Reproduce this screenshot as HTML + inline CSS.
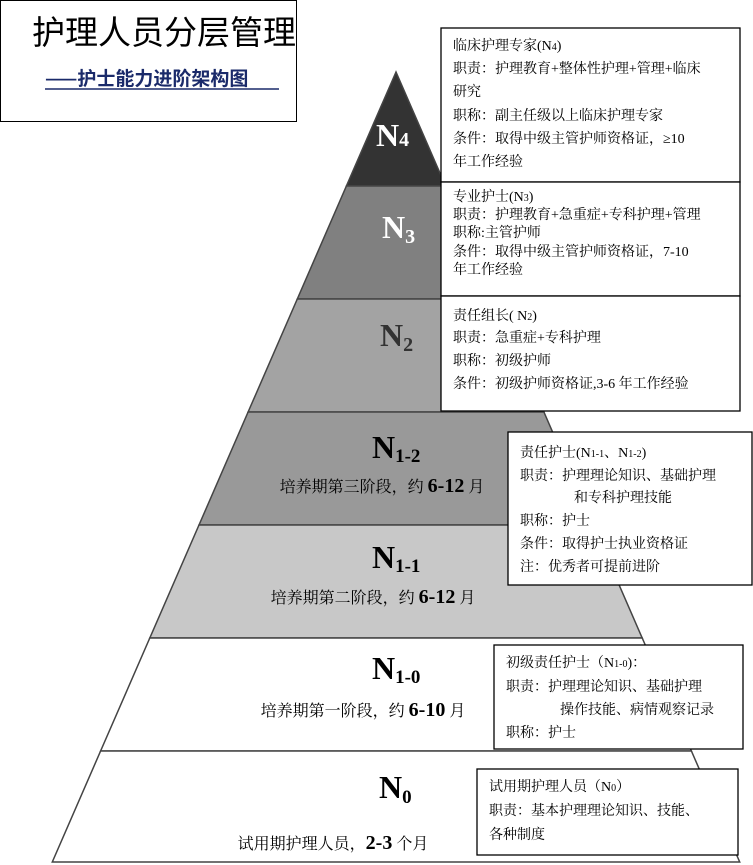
<!DOCTYPE html>
<html><head><meta charset="utf-8"><style>
body{margin:0;background:#fff;}
svg{display:block}
text{font-family:"Liberation Serif","Noto Serif CJK SC","Noto Sans CJK SC",serif;fill:#000}
.b{font-size:14px}
</style></head><body>
<svg width="753" height="865" viewBox="0 0 753 865" xmlns="http://www.w3.org/2000/svg">
<rect x="0" y="0" width="753" height="865" fill="#fff"/>
<g stroke="#444" stroke-width="1.5">
<polygon points="396,72 346.4,186 445.6,186" fill="#333333"/>
<polygon points="346.4,186 445.6,186 494.7,299 297.3,299" fill="#808080"/>
<polygon points="297.3,299 494.7,299 543.9,412 248.1,412" fill="#a3a3a3"/>
<polygon points="248.1,412 543.9,412 593,525 199,525" fill="#999999"/>
<polygon points="199,525 593,525 642.2,638 149.8,638" fill="#c8c8c8"/>
<polygon points="149.8,638 642.2,638 691.4,751 100.6,751" fill="#ffffff"/>
<polygon points="100.6,751 691.4,751 739.7,862 52.3,862" fill="#ffffff"/>
</g>
<rect x="0.5" y="0.5" width="296" height="121" fill="#fff" stroke="#000" stroke-width="1"/>
<text x="164" y="44" font-size="33" text-anchor="middle" style="font-family:'Noto Sans CJK SC',sans-serif">护理人员分层管理</text>
<text x="45" y="85" font-size="19" font-weight="bold" style="fill:#1a2a6a;font-family:'Noto Sans CJK SC',sans-serif">——护士能力进阶架构图</text>
<line x1="45" y1="89" x2="279" y2="89" stroke="#1a2a6a" stroke-width="1.5"/>
<g font-weight="bold">
<text x="376" y="146" font-size="32" style="fill:#fff">N<tspan font-size="20">4</tspan></text>
<text x="382" y="238" font-size="32" style="fill:#fff">N<tspan font-size="20" dy="5">3</tspan></text>
<text x="380" y="346" font-size="32" style="fill:#333">N<tspan font-size="20" dy="5">2</tspan></text>
<text x="372" y="458" font-size="32">N<tspan font-size="19" dy="4">1-2</tspan></text>
<text x="372" y="568" font-size="32">N<tspan font-size="19" dy="4">1-1</tspan></text>
<text x="372" y="679" font-size="32">N<tspan font-size="19" dy="4">1-0</tspan></text>
<text x="379" y="798" font-size="32">N<tspan font-size="19" dy="5">0</tspan></text>
</g>
<text x="382" y="492" font-size="16" text-anchor="middle">培养期第三阶段，约 <tspan font-weight="bold" font-size="20">6-12</tspan> 月</text>
<text x="373" y="603" font-size="16" text-anchor="middle">培养期第二阶段，约 <tspan font-weight="bold" font-size="20">6-12</tspan> 月</text>
<text x="363" y="716" font-size="16" text-anchor="middle">培养期第一阶段，约 <tspan font-weight="bold" font-size="20">6-10</tspan> 月</text>
<text x="333" y="849" font-size="16" text-anchor="middle">试用期护理人员，<tspan font-weight="bold" font-size="20">2-3</tspan> 个月</text>
<g fill="#fff" stroke="#000" stroke-width="1.3">
<rect x="441" y="28" width="299" height="154"/>
<rect x="441" y="182" width="299" height="114"/>
<rect x="441" y="296" width="299" height="115"/>
<rect x="508" y="432" width="244" height="153"/>
<rect x="494" y="645" width="249" height="104"/>
<rect x="477" y="769" width="261" height="86"/>
</g>
<g class="b">
<text x="453" y="50">临床护理专家(N<tspan font-size="10">4</tspan>)</text>
<text x="453" y="73">职责：护理教育+整体性护理+管理+临床</text>
<text x="453" y="96">研究</text>
<text x="453" y="120">职称：副主任级以上临床护理专家</text>
<text x="453" y="143">条件：取得中级主管护师资格证，≥10</text>
<text x="453" y="166">年工作经验</text>
<text x="453" y="201">专业护士(N<tspan font-size="10">3</tspan>)</text>
<text x="453" y="219">职责：护理教育+急重症+专科护理+管理</text>
<text x="453" y="237">职称:主管护师</text>
<text x="453" y="256">条件：取得中级主管护师资格证，7-10</text>
<text x="453" y="274">年工作经验</text>
<text x="453" y="320">责任组长( N<tspan font-size="10">2</tspan>)</text>
<text x="453" y="342">职责：急重症+专科护理</text>
<text x="453" y="365">职称：初级护师</text>
<text x="453" y="388">条件：初级护师资格证,3-6 年工作经验</text>
<text x="520" y="457">责任护士(N<tspan font-size="10">1-1</tspan>、N<tspan font-size="10">1-2</tspan>)</text>
<text x="520" y="480">职责：护理理论知识、基础护理</text>
<text x="574" y="502">和专科护理技能</text>
<text x="520" y="525">职称：护士</text>
<text x="520" y="548">条件：取得护士执业资格证</text>
<text x="520" y="571">注：优秀者可提前进阶</text>
<text x="506" y="667">初级责任护士（N<tspan font-size="10">1-0</tspan>)：</text>
<text x="506" y="691">职责：护理理论知识、基础护理</text>
<text x="560" y="714">操作技能、病情观察记录</text>
<text x="506" y="737">职称：护士</text>
<text x="489" y="791">试用期护理人员（N<tspan font-size="10">0</tspan>）</text>
<text x="489" y="815">职责：基本护理理论知识、技能、</text>
<text x="489" y="839">各种制度</text>
</g>
</svg>
</body></html>
